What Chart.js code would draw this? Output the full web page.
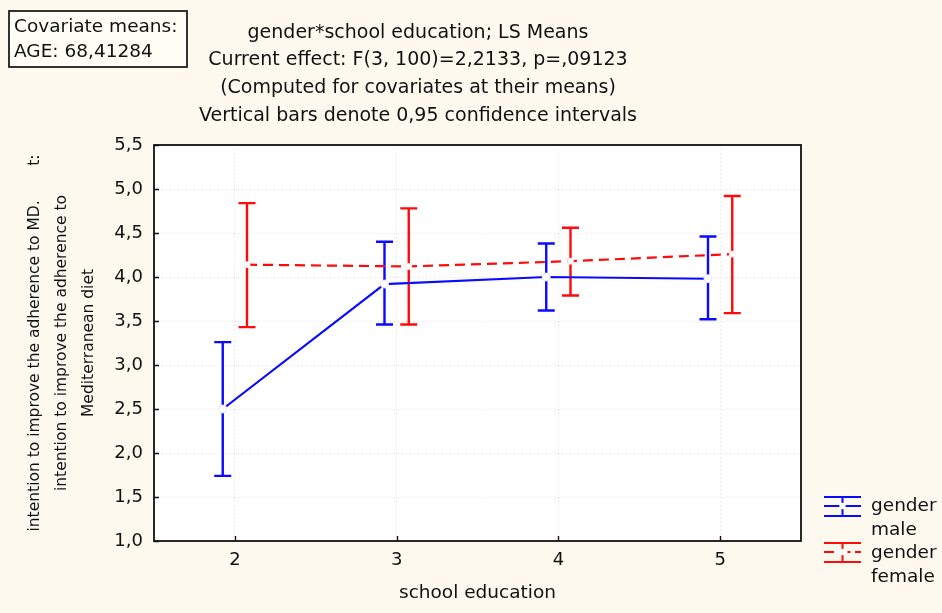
<!DOCTYPE html>
<html>
<head>
<meta charset="utf-8">
<script src="https://cdn.jsdelivr.net/npm/chart.js@4.4.1/dist/chart.umd.min.js"></script>
<style>
  html, body { margin: 0; padding: 0; background: #fdf9ee; }
  #wrap { width: 942px; height: 613px; position: relative; }
</style>
</head>
<body>
<div id="wrap"><canvas id="c" width="942" height="613"></canvas></div>
<script>
// ---- data ----
const categories = [2, 3, 4, 5];
const maleMean   = [2.50, 3.92, 4.00, 3.98];
const maleLow    = [1.74, 3.46, 3.62, 3.52];
const maleHigh   = [3.26, 4.40, 4.38, 4.46];
const femaleMean = [4.14, 4.12, 4.18, 4.26];
const femaleLow  = [3.43, 3.46, 3.79, 3.59];
const femaleHigh = [4.84, 4.78, 4.56, 4.92];
const yTicks = [1.0, 1.5, 2.0, 2.5, 3.0, 3.5, 4.0, 4.5, 5.0, 5.5];
const titleLines = [
  "gender*school education; LS Means",
  "Current effect: F(3, 100)=2,2133, p=,09123",
  "(Computed for covariates at their means)",
  "Vertical bars denote 0,95 confidence intervals"
];
const covariateLines = ["Covariate means:", "AGE: 68,41284"];
const yTitleLines = [
  "intention to improve the adherence to MD.       t:",
  "intention to improve the adherence to",
  "Mediterranean diet"
];
const xTitle = "school education";
const legendLines = [["gender", "male"], ["gender", "female"]];

// ---- styling ----
const FONT = "'DejaVu Sans', 'Liberation Sans', sans-serif";
const BLUE = '#0a0aff';
const RED = '#ff0a0a';
const BG = '#fdf9ee';
const DODGE = 0.075;

const fmt = v => v.toFixed(1).replace('.', ',');

const maleData = categories.map((c, i) => ({x: c - DODGE, y: maleMean[i]}));
const femaleData = categories.map((c, i) => ({x: c + DODGE, y: femaleMean[i]}));
const ranges = [
  {low: maleLow, high: maleHigh, color: BLUE},
  {low: femaleLow, high: femaleHigh, color: RED}
];

const bgPlugin = {
  id: 'bg',
  beforeDraw(chart) {
    const {ctx, chartArea: a} = chart;
    ctx.save();
    ctx.fillStyle = BG;
    ctx.fillRect(0, 0, chart.width, chart.height);
    ctx.fillStyle = '#ffffff';
    ctx.fillRect(a.left, a.top, a.right - a.left, a.bottom - a.top);
    ctx.restore();
  }
};

const errorBarPlugin = {
  id: 'errbars',
  beforeDatasetsDraw(chart) {
    const {ctx} = chart;
    const ys = chart.scales.y;
    ctx.save();
    ctx.lineWidth = 2.4;
    ranges.forEach((r, di) => {
      const meta = chart.getDatasetMeta(di);
      ctx.strokeStyle = r.color;
      meta.data.forEach((pt, i) => {
        const x = pt.x;
        const yl = ys.getPixelForValue(r.low[i]);
        const yh = ys.getPixelForValue(r.high[i]);
        const cw = 8.5;
        ctx.beginPath();
        ctx.moveTo(x, yl); ctx.lineTo(x, yh);
        ctx.moveTo(x - cw, yl); ctx.lineTo(x + cw, yl);
        ctx.moveTo(x - cw, yh); ctx.lineTo(x + cw, yh);
        ctx.stroke();
      });
    });
    ctx.restore();
  }
};

const framePlugin = {
  id: 'frame',
  afterDraw(chart) {
    const {ctx, chartArea: a} = chart;
    const xs = chart.scales.x, ys = chart.scales.y;
    ctx.save();
    // plot frame
    ctx.strokeStyle = '#111';
    ctx.lineWidth = 1.8;
    ctx.strokeRect(a.left, a.top, a.right - a.left, a.bottom - a.top);
    // inward ticks
    ctx.beginPath();
    categories.forEach(v => {
      const px = Math.round(xs.getPixelForValue(v)) + 0.5;
      ctx.moveTo(px, a.bottom); ctx.lineTo(px, a.bottom - 5);
    });
    yTicks.forEach(v => {
      const py = Math.round(ys.getPixelForValue(v)) + 0.5;
      ctx.moveTo(a.left, py); ctx.lineTo(a.left + 5, py);
    });
    ctx.lineWidth = 1.4;
    ctx.stroke();

    // title lines
    ctx.fillStyle = '#111';
    ctx.font = "19px " + FONT;
    ctx.textAlign = 'center';
    ctx.textBaseline = 'middle';
    const tY = [33, 60, 88, 116];
    titleLines.forEach((t, i) => ctx.fillText(t, 418, tY[i]));

    // covariate box
    ctx.lineWidth = 1.7;
    ctx.strokeStyle = '#111';
    ctx.fillStyle = '#fffdf6';
    ctx.fillRect(9, 11, 178, 56);
    ctx.strokeRect(9, 11, 178, 56);
    ctx.fillStyle = '#111';
    ctx.font = "18.5px " + FONT;
    ctx.textAlign = 'left';
    ctx.fillText(covariateLines[0], 14, 27);
    ctx.fillText(covariateLines[1], 14, 52);

    // legend
    const drawIcon = (yTop, yMid, yBot, color, dashed) => {
      const x0 = 824, x1 = 861, xc = 842.5;
      ctx.strokeStyle = color;
      ctx.lineWidth = 2;
      ctx.setLineDash([]);
      ctx.beginPath();
      ctx.moveTo(x0, yTop); ctx.lineTo(x1, yTop);
      ctx.moveTo(x0, yBot); ctx.lineTo(x1, yBot);
      ctx.moveTo(xc, yTop); ctx.lineTo(xc, yBot);
      ctx.stroke();
      ctx.beginPath();
      if (dashed) {
        ctx.moveTo(x0, yMid); ctx.lineTo(x0 + 10, yMid);
        ctx.moveTo(xc + 5, yMid); ctx.lineTo(xc + 8, yMid);
        ctx.moveTo(x1 - 6, yMid); ctx.lineTo(x1, yMid);
      } else {
        ctx.moveTo(x0, yMid); ctx.lineTo(x1, yMid);
      }
      ctx.stroke();
      ctx.fillStyle = '#ffffff';
      ctx.beginPath();
      ctx.arc(xc, yMid, 3.2, 0, Math.PI * 2);
      ctx.fill();
    };
    drawIcon(497, 506, 516, BLUE, false);
    drawIcon(543, 552, 562, RED, true);
    ctx.fillStyle = '#111';
    ctx.font = "18.5px " + FONT;
    ctx.textAlign = 'left';
    ctx.textBaseline = 'middle';
    ctx.fillText(legendLines[0][0], 871, 506);
    ctx.fillText(legendLines[0][1], 871, 530);
    ctx.fillText(legendLines[1][0], 871, 553);
    ctx.fillText(legendLines[1][1], 871, 577);
    ctx.restore();
  }
};

new Chart(document.getElementById('c'), {
  type: 'line',
  data: {
    datasets: [
      {
        label: 'gender male',
        data: maleData,
        borderColor: BLUE,
        borderWidth: 2.2,
        pointRadius: 4,
        pointBackgroundColor: '#ffffff',
        pointBorderColor: '#e6e6ff',
        pointBorderWidth: 1,
        tension: 0
      },
      {
        label: 'gender female',
        data: femaleData,
        borderColor: RED,
        borderWidth: 2.2,
        borderDash: [10, 6],
        pointStyle: 'rect',
        pointRadius: 4,
        pointBackgroundColor: '#ffffff',
        pointBorderColor: '#ffe6e6',
        pointBorderWidth: 1,
        tension: 0
      }
    ]
  },
  options: {
    responsive: false,
    animation: false,
    devicePixelRatio: 1,
    layout: { padding: { left: 0, top: 145, right: 141, bottom: 0 } },
    plugins: {
      legend: { display: false },
      tooltip: { enabled: false },
      title: { display: false }
    },
    scales: {
      x: {
        type: 'linear',
        min: 1.5,
        max: 5.5,
        afterBuildTicks: s => { s.ticks = categories.map(v => ({value: v})); },
        afterFit: s => { s.height = 72; },
        ticks: {
          color: '#111',
          font: { family: FONT, size: 18 },
          padding: 9,
          callback: v => String(v)
        },
        grid: { color: 'rgba(0,0,0,0.13)', drawTicks: false, lineWidth: 1 },
        border: { display: false, dash: [1, 3] },
        title: {
          display: true,
          text: xTitle,
          color: '#111',
          font: { family: FONT, size: 18.5, lineHeight: 1.2 },
          padding: { top: 0, bottom: 9 }
        }
      },
      y: {
        type: 'linear',
        min: 1.0,
        max: 5.5,
        afterBuildTicks: s => { s.ticks = yTicks.map(v => ({value: v})); },
        afterFit: s => { s.width = 154; },
        ticks: {
          color: '#111',
          font: { family: FONT, size: 18 },
          padding: 11,
          callback: v => fmt(v)
        },
        grid: { color: 'rgba(0,0,0,0.13)', drawTicks: false, lineWidth: 1 },
        border: { display: false, dash: [1, 3] },
        title: {
          display: true,
          text: yTitleLines,
          color: '#111',
          font: { family: FONT, size: 15.5, lineHeight: 1.75 },
          padding: { top: 21.5, bottom: 0 }
        }
      }
    }
  },
  plugins: [bgPlugin, errorBarPlugin, framePlugin]
});
</script>
</body>
</html>
